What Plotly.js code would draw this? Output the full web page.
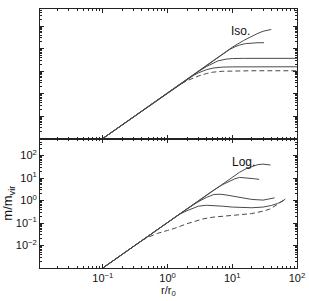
<!DOCTYPE html>
<html>
<head>
<meta charset="utf-8">
<script src="https://cdn.plot.ly/plotly-3.0.1.min.js"></script>
<style>html,body{margin:0;padding:0;background:#fff;}#chart{width:309px;height:301px;}</style>
</head>
<body>
<div id="chart"></div>
<script>
// ---- data: r/r0 and log10(m/m_vir) ----
// Isothermal panel (top)
const isoR1 = [0.1,0.2,0.3,0.5,1,2,3,5,7,10,15,20,25,30,35,40];
const isoM1 = [-3.0,-2.39,-2.03,-1.58,-0.97,-0.35,0.0,0.45,0.75,1.06,1.36,1.56,1.68,1.77,1.82,1.85];
const isoR2 = [0.1,0.2,0.3,0.5,1,2,3,5,7,9,11,13,16,20,25,31];
const isoM2 = [-3.0,-2.39,-2.03,-1.58,-0.97,-0.35,0.0,0.45,0.75,0.95,1.08,1.16,1.22,1.25,1.26,1.26];
const isoR3 = [0.1,0.2,0.3,0.5,1,2,3,4,5,6,8,10,15,30,100];
const isoM3 = [-3.0,-2.39,-2.03,-1.58,-0.97,-0.35,-0.02,0.2,0.35,0.45,0.53,0.555,0.565,0.565,0.565];
const isoR4 = [0.1,0.2,0.3,0.5,1,2,2.5,3,4,5,7,10,20,100];
const isoM4 = [-3.0,-2.39,-2.03,-1.58,-0.97,-0.36,-0.2,-0.08,0.06,0.13,0.175,0.185,0.19,0.19];
const isoRd = [0.1,0.2,0.3,0.5,1,1.5,2,2.5,3,4,5,7,10,20,100];
const isoMd = [-3.0,-2.39,-2.03,-1.58,-0.97,-0.62,-0.43,-0.31,-0.22,-0.11,-0.05,-0.01,0.005,0.013,0.013];
// Logarithmic panel (bottom)
const logR1 = [0.1,0.2,0.3,0.5,1,2,3,5,7,10,13,17,20,25,30,35,39];
const logM1 = [-3.0,-2.39,-2.03,-1.58,-0.97,-0.35,0.0,0.45,0.75,1.06,1.26,1.44,1.52,1.6,1.62,1.61,1.58];
const logR2 = [0.1,0.2,0.3,0.5,1,2,3,5,7,9,11,13,18,22,26];
const logM2 = [-3.0,-2.39,-2.03,-1.58,-0.97,-0.35,0.0,0.44,0.7,0.87,0.97,1.03,1.01,0.97,0.94];
const logR3 = [0.1,0.2,0.3,0.5,1,2,3,4,5.2,6.5,8,10,15,20,30,38,45];
const logM3 = [-3.0,-2.39,-2.03,-1.58,-0.97,-0.37,-0.05,0.14,0.27,0.28,0.25,0.2,0.1,0.05,0.02,0.06,0.12];
const logR4 = [0.1,0.2,0.3,0.5,1,1.5,2,2.5,3,4,5,7,10,15,20,30,40,50,60,66];
const logM4 = [-3.0,-2.39,-2.03,-1.58,-0.97,-0.62,-0.45,-0.33,-0.25,-0.21,-0.22,-0.25,-0.29,-0.32,-0.32,-0.29,-0.22,-0.13,-0.03,0.07];
const logRd = [0.1,0.2,0.3,0.4,0.5,0.7,1,1.3,2,3.5,5,10,15,20,30,38,48,55,62];
const logMd = [-3.0,-2.39,-2.03,-1.78,-1.63,-1.46,-1.33,-1.23,-1.03,-0.82,-0.74,-0.66,-0.64,-0.58,-0.47,-0.38,-0.2,-0.1,0.02];

const xTickVals = [0.1,1,10,100];
const xTickText = ['10<sup>−1</sup>','10<sup>0</sup>','10<sup>1</sup>','10<sup>2</sup>'];
const yTickVals = [0.01,0.1,1,10,100];
const yTickText = ['10<sup>−2</sup>','10<sup>−1</sup>','10<sup>0</sup>','10<sup>1</sup>','10<sup>2</sup>'];
const panelLabels = ['Iso.','Log.'];
const xTitle = 'r/r<sub>0</sub>';
const yTitle = 'm/m<sub>vir</sub>';

const pw = a => a.map(v => Math.pow(10, v));
const lineCol = '#4a4a4a';
function tr(r, m, xa, ya, dash) {
  return {x: r, y: pw(m), xaxis: xa, yaxis: ya, type: 'scatter', mode: 'lines',
    line: {color: lineCol, width: 1, dash: dash || 'solid'}, hoverinfo: 'skip'};
}
const data = [
  tr(isoRd, isoMd, 'x2', 'y2', '5px,3px'),
  tr(isoR4, isoM4, 'x2', 'y2'),
  tr(isoR3, isoM3, 'x2', 'y2'),
  tr(isoR2, isoM2, 'x2', 'y2'),
  tr(isoR1, isoM1, 'x2', 'y2'),
  tr(logRd, logMd, 'x', 'y', '5px,3px'),
  tr(logR4, logM4, 'x', 'y'),
  tr(logR3, logM3, 'x', 'y'),
  tr(logR2, logM2, 'x', 'y'),
  tr(logR1, logM1, 'x', 'y')
];

const fam = '"Liberation Sans", Arial, sans-serif';
const font = {family: fam, size: 11, color: '#111'};
const minor = {ticks: 'inside', ticklen: 2, tickcolor: '#222', dtick: 'D1', showgrid: false};
function xax(extra) {
  return Object.assign({type: 'log', range: [-1.97, 2], showline: true, linecolor: '#222', linewidth: 1,
    mirror: 'allticks', ticks: 'inside', ticklen: 4, tickcolor: '#222', showgrid: false, zeroline: false,
    tickvals: xTickVals, ticktext: xTickText, minor: minor, tickfont: font}, extra);
}
function yax(extra) {
  return Object.assign({type: 'log', range: [-3, 2.76], showline: true, linecolor: '#222', linewidth: 1,
    mirror: 'allticks', ticks: 'inside', ticklen: 4, tickcolor: '#222', showgrid: false, zeroline: false,
    tickvals: yTickVals, ticktext: yTickText, minor: minor, tickfont: font}, extra);
}

const layout = {
  width: 309, height: 301,
  margin: {l: 40, r: 12, t: 9, b: 33},
  paper_bgcolor: '#fff', plot_bgcolor: '#fff',
  showlegend: false,
  font: font,
  xaxis: xax({anchor: 'y', domain: [0, 1]}),
  yaxis: yax({anchor: 'x', domain: [0, 0.5],
    title: {text: yTitle, font: {family: fam, size: 13, color: '#111'}, standoff: 1}}),
  xaxis2: xax({anchor: 'y2', domain: [0, 1], showticklabels: false}),
  yaxis2: yax({anchor: 'x2', domain: [0.5, 1], showticklabels: false}),
  annotations: [
    {text: xTitle, x: 0.5, y: 1, xref: 'paper', yref: 'paper', yshift: -274, yanchor: 'top',
      showarrow: false, borderpad: 0, font: {family: fam, size: 11, color: '#111'}},
    {text: panelLabels[0], x: 1.134, y: 1.8, xref: 'x2', yref: 'y2', showarrow: false,
      font: {family: fam, size: 12, color: '#111'}},
    {text: panelLabels[1], x: 1.18, y: 1.7, xref: 'x', yref: 'y', showarrow: false,
      font: {family: fam, size: 12, color: '#111'}}
  ]
};

Plotly.newPlot('chart', data, layout, {staticPlot: true, displayModeBar: false});
</script>
</body>
</html>
